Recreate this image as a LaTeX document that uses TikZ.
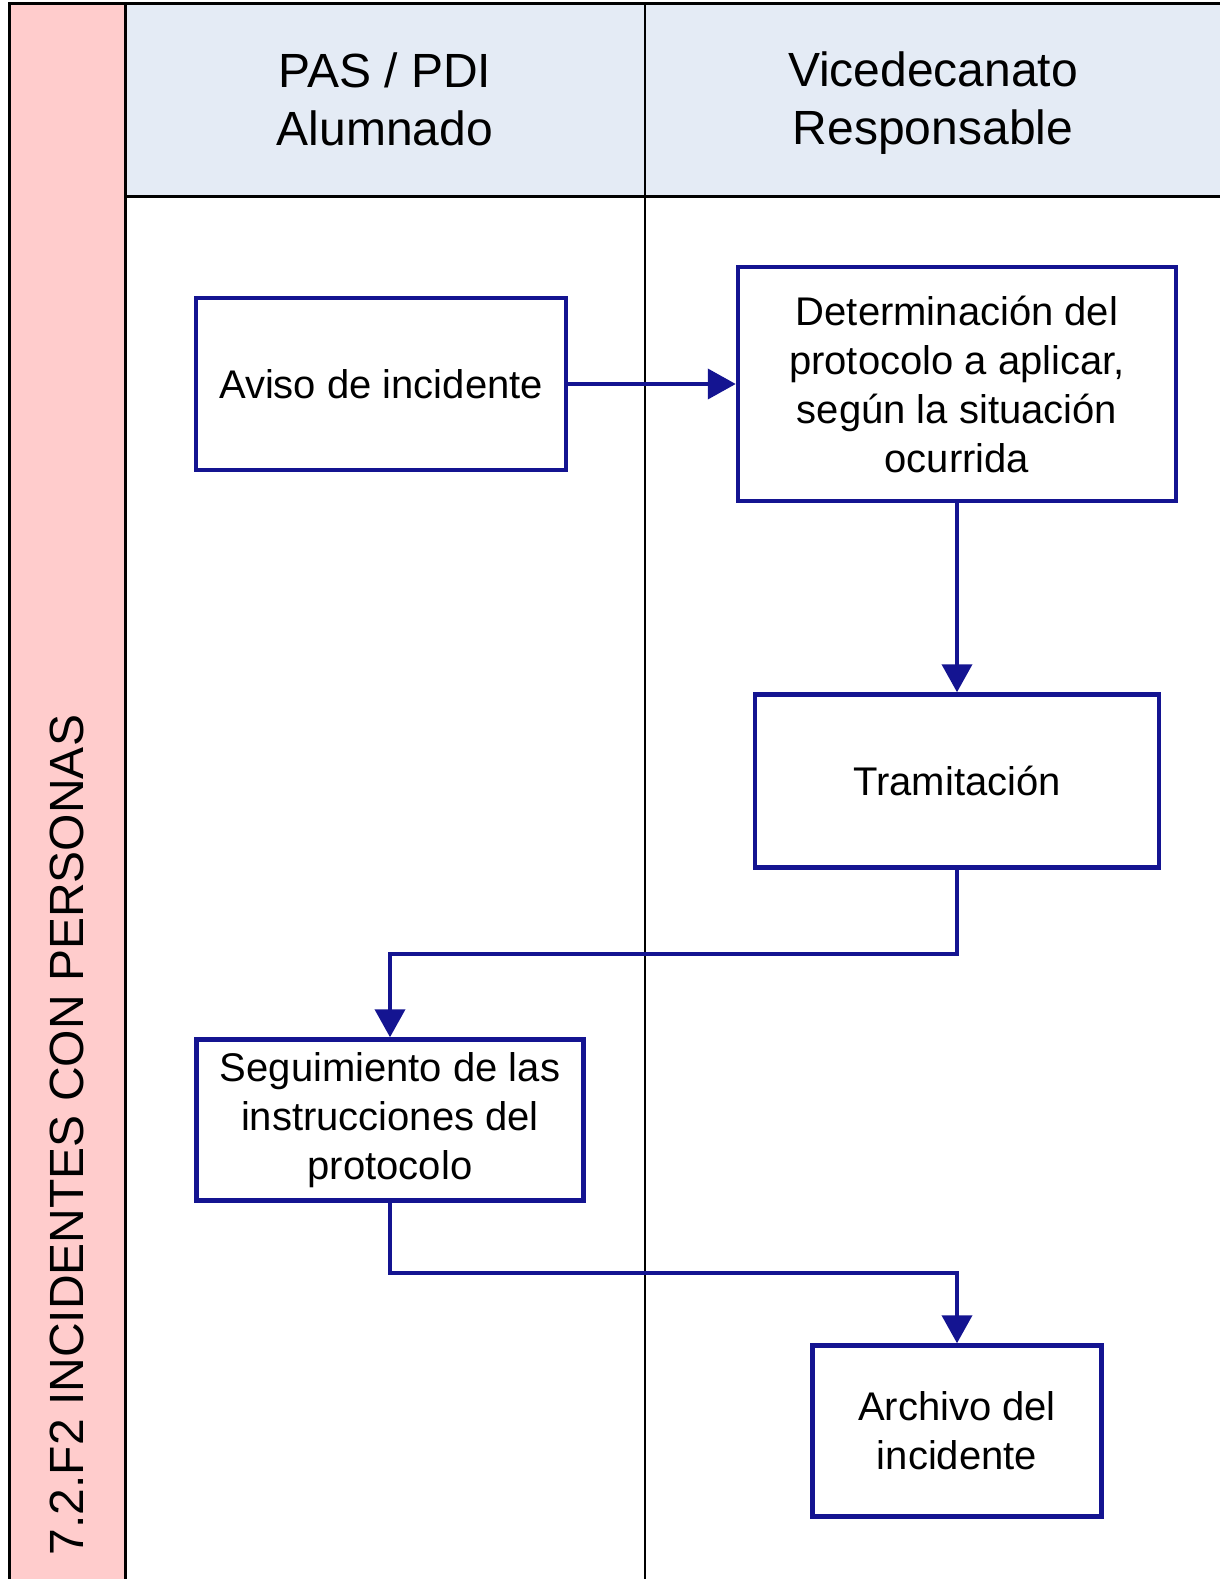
\documentclass[tikz,border=0pt]{standalone}
\usepackage{fontspec}
\setmainfont{Liberation Sans}
\usepackage{tikz}
\usetikzlibrary{arrows.meta, positioning}

\begin{document}
\begin{tikzpicture}[x=1pt, y=-1pt,
    stepbox/.style={draw=flowblue, line width=4.5pt, fill=white, align=center, inner sep=0pt,
      font=\fontsize{40}{49}\selectfont},
    flow/.style={draw=flowblue, line width=4pt, -{Triangle[length=28pt, width=30pt]}},
    lanehead/.style={align=center, font=\fontsize{48}{58}\selectfont}]
  \definecolor{flowblue}{RGB}{20,20,145}
  \definecolor{lanepink}{RGB}{255,204,204}
  \definecolor{headblue}{RGB}{228,235,245}

  \useasboundingbox (0,0) rectangle (1220,1579);

  % lanes
  \fill[lanepink] (9,4) rectangle (125,1579);
  \fill[headblue] (125,4) rectangle (1220,196);
  \draw[line width=3pt] (9,1579) -- (9,4) -- (1220,4);
  \draw[line width=3pt] (125,4) -- (125,1579);
  \draw[line width=3pt] (125,196) -- (1220,196);
  \draw[line width=2pt] (645,4) -- (645,1579);

  \node[lanehead] (pas) at (385,99) {PAS / PDI\\Alumnado};
  \node[lanehead] (vice) at (933,103) {Vicedecanato\\Responsable};
  \node[rotate=90, font=\fontsize{48}{58}\selectfont] (title) at (67,1135) {7.2.F2 INCIDENTES CON PERSONAS};

  % steps
  \node[stepbox, minimum width=370pt, minimum height=172pt] (aviso) at (381,384) {Aviso de incidente};
  \node[stepbox, minimum width=438pt, minimum height=234pt] (determ) at (957,384)
    {Determinación del\\protocolo a aplicar,\\según la situación\\ocurrida};
  \node[stepbox, minimum width=404pt, minimum height=173pt] (tram) at (957,781) {Tramitación};
  \node[stepbox, minimum width=387pt, minimum height=161pt] (segui) at (390,1120)
    {Seguimiento de las\\instrucciones del\\protocolo};
  \node[stepbox, minimum width=289pt, minimum height=171pt] (archivo) at (957,1431)
    {Archivo del\\incidente};

  \draw[flow] (aviso.east) -- (determ.west);
  \draw[flow] (determ.south) -- (tram.north);
  \draw[flow] (tram.south) -- ++(0,84) -| (segui.north);
  \draw[flow] (segui.south) -- ++(0,70) -| (archivo.north);
\end{tikzpicture}
\end{document}
